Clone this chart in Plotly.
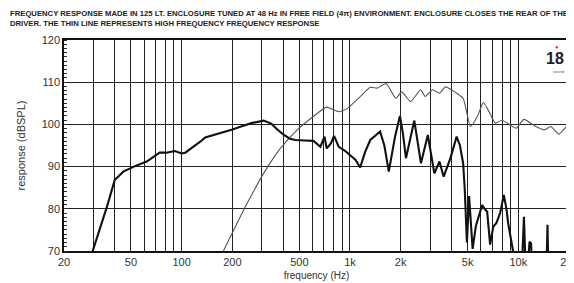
import math
import plotly.graph_objects as go

# thick line: woofer response
lf_freq = [28, 29.6, 33, 36, 40, 45, 52, 62, 74, 81, 91, 100, 105, 112, 129, 138, 160, 180, 200, 230,
           260, 307, 340, 370, 405, 440, 474, 540, 607, 667, 706, 727, 770, 804, 857, 930, 1010, 1080,
           1150, 1230, 1320, 1400, 1510, 1600, 1700, 1850, 1980, 2060, 2150, 2410, 2640, 2900, 3170,
           3400, 3600, 3950, 4300, 4500, 4700, 4800, 4950, 5100, 5350, 5600, 5900, 6100, 6300, 6530,
           6800, 7100, 7400, 7800, 8200, 8500, 8700, 9100, 9400, 10000, 10500, 10800, 11000, 11400,
           11650, 11900, 12100, 14700, 14900, 15100, 20000]
lf_spl = [67, 70, 75.5, 80.5, 86.8, 88.8, 90.0, 91.2, 93.3, 93.3, 93.7, 93.1, 93.3, 94.1, 95.9, 96.9,
          97.6, 98.2, 98.8, 99.6, 100.3, 100.9, 100.2, 98.8, 97.5, 96.6, 96.3, 96.2, 96.1, 94.7, 97.1,
          94.3, 95.5, 97.3, 94.7, 93.8, 92.5, 91.6, 89.8, 93.5, 96.3, 97.2, 98.3, 95, 88.8, 97, 102,
          98, 92.0, 100.9, 90.8, 97.5, 88.4, 91.2, 87.6, 92.0, 97.1, 95, 90.8, 85, 72, 83, 70.5, 76,
          79, 80.9, 80, 79.3, 71.5, 75.8, 76.6, 79, 83.3, 80, 76.6, 72, 69, 65, 66, 78.1, 68, 66,
          72.2, 71.8, 66, 65, 76.2, 65, 65]

# thin line: high frequency driver response
hf_freq = [170, 177, 210, 245, 307, 386, 486, 611, 727, 857, 966, 1150, 1320, 1450, 1640, 1870, 2030,
           2290, 2630, 2800, 3100, 3400, 3700, 4300, 4700, 5200, 5700, 6200, 6700, 7300, 8000, 8900,
           9700, 10800, 12700, 14300, 15600, 17400, 19800, 20000]
hf_spl = [68.5, 70, 76, 81.3, 88.4, 94.3, 98.7, 102, 104.1, 103, 103.8, 106.6, 108.8, 108.6, 109.7,
          106.2, 107.7, 105.4, 108.2, 106.6, 108.2, 107.4, 108.9, 107.4, 106.2, 99.5, 101.8, 105.2,
          103, 100.3, 101, 99.9, 99.1, 101.2, 99.5, 98.7, 99.5, 97.7, 99.9, 99.9]

grid_freqs = [20, 30, 40, 50, 60, 70, 80, 90, 100, 200, 300, 400, 500, 600, 700, 800, 900, 1000,
              2000, 3000, 4000, 5000, 6000, 7000, 8000, 9000, 10000, 20000]
labelled = {20: "20", 50: "50", 100: "100", 200: "200", 500: "500", 1000: "1k", 2000: "2k",
            5000: "5k", 10000: "10k", 20000: "20k"}
x_text = [labelled.get(f, "") for f in grid_freqs]
y_ticks = [70, 80, 90, 100, 110, 120]

title = ("FREQUENCY RESPONSE MADE IN 125 LT. ENCLOSURE TUNED AT 48 Hz IN FREE FIELD (4π) ENVIRONMENT. "
         "ENCLOSURE CLOSES THE REAR OF THE<br>DRIVER. THE THIN LINE REPRESENTS HIGH FREQUENCY FREQUENCY RESPONSE")

FONT = "Liberation Sans, Arial, sans-serif"

fig = go.Figure()
fig.add_trace(go.Scatter(x=hf_freq, y=hf_spl, mode="lines",
                         line=dict(color="#555555", width=1.1, shape="spline", smoothing=0.5),
                         showlegend=False))
fig.add_trace(go.Scatter(x=lf_freq, y=lf_spl, mode="lines",
                         line=dict(color="#111111", width=2.1), showlegend=False))

fig.update_layout(
    width=566, height=275,
    margin=dict(l=56, r=5, t=32, b=32, autoexpand=False),
    paper_bgcolor="white", plot_bgcolor="white",
    font=dict(family=FONT, color="#333333", size=11),
    xaxis=dict(type="log", range=[math.log10(20) - 1e-6, math.log10(20000) + 1e-6],
               tickvals=grid_freqs, ticktext=x_text, ticklabeloverflow="allow", automargin=False,
               showgrid=True, gridcolor="#222222", gridwidth=1.1, ticks="", zeroline=False,
               showline=True, linecolor="#111111", linewidth=1.5, mirror=True,
               tickfont=dict(size=11, color="#333333"),
               title=dict(text="frequency (Hz)", font=dict(size=10, color="#333333"), standoff=5)),
    yaxis=dict(range=[70, 120], tickvals=y_ticks, showgrid=True, gridcolor="#222222", gridwidth=1.1,
               ticks="", zeroline=False, showline=True, linecolor="#111111", linewidth=1.5,
               mirror=True, tickfont=dict(size=11, color="#333333"), automargin=False,
               minor=dict(dtick=1, ticks="inside", ticklen=3, tickcolor="#333333", showgrid=False),
               title=dict(text="response (dBSPL)", font=dict(size=11, color="#333333"), standoff=14)),
)

fig.add_annotation(x=0, y=1.0, xref="paper", yref="paper", xanchor="left", yanchor="bottom",
                   text="<b>" + title + "</b>", showarrow=False, align="left",
                   font=dict(size=7.7, color="#222222", family=FONT),
                   xshift=-56, yshift=10)
# logo
fig.add_annotation(x=1.0, y=1.0, xref="paper", yref="paper", xanchor="right", yanchor="top",
                   text="<b>18</b>", showarrow=False, xshift=-3, yshift=-8,
                   font=dict(size=16, color="#222222", family="Liberation Sans Narrow, Arial Narrow, sans-serif"))
fig.add_annotation(x=1.0, y=1.0, xref="paper", yref="paper", xanchor="right", yanchor="top",
                   text="●", showarrow=False, xshift=-8, yshift=-2,
                   font=dict(size=6, color="#dd3333"))
fig.add_annotation(x=1.0, y=1.0, xref="paper", yref="paper", xanchor="right", yanchor="top",
                   text="sound", showarrow=False, xshift=-3, yshift=-27,
                   font=dict(size=4, color="#666666"))

fig.write_html("out.html")
